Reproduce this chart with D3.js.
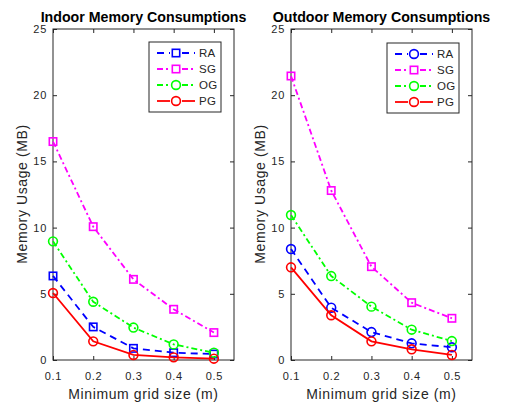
<!DOCTYPE html>
<html>
<head>
<meta charset="utf-8">
<script src="https://cdn.jsdelivr.net/npm/d3@7"></script>
<style>
  body { margin: 0; background: #fff; }
  svg { font-family: "Liberation Sans", Arial, sans-serif; }
</style>
</head>
<body>
<svg id="chart" width="507" height="404"></svg>
<script>
// grid sizes (m)
const gridSizes = [0.1, 0.2, 0.3, 0.4, 0.5];
const xTicks = [0.1, 0.2, 0.3, 0.4, 0.5];
const yTicks = [0, 5, 10, 15, 20, 25];
const seriesNames = ["RA", "SG", "OG", "PG"];

// indoor memory usage (MB)
const indoorRA = [6.35, 2.5, 0.88, 0.55, 0.45];
const indoorSG = [16.5, 10.07, 6.09, 3.83, 2.07];
const indoorOG = [8.96, 4.4, 2.45, 1.18, 0.55];
const indoorPG = [5.06, 1.41, 0.38, 0.2, 0.1];

// outdoor memory usage (MB)
const outdoorRA = [8.38, 3.95, 2.11, 1.26, 0.96];
const outdoorSG = [21.45, 12.8, 7.05, 4.33, 3.15];
const outdoorOG = [10.95, 6.34, 4.03, 2.29, 1.43];
const outdoorPG = [7.0, 3.38, 1.41, 0.81, 0.38];

const styles = {
    RA: {color: "#0000ff", dash: "7,5"},
    SG: {color: "#ff00ff", dash: "6,3,2,3"},
    OG: {color: "#00ff00", dash: "6,3,2,3"},
    PG: {color: "#ff0000", dash: null}
};

const textColor = "#262626";
const lw = 1.8;
const svg = d3.select("#chart");

function drawPanel(opts){
    let xScale = d3.scaleLinear().domain([0.1, 0.55]).range([opts.left, opts.right]);
    let yScale = d3.scaleLinear().domain([0, 25]).range([360, 29]);
    let g = svg.append("g");

    // box
    g.append("rect")
        .attr("x", opts.left).attr("y", 29)
        .attr("width", opts.right - opts.left).attr("height", 331)
        .attr("fill", "none").attr("stroke", textColor).attr("stroke-width", 1);

    // bottom axis + top ticks
    let xAxis = g.append("g").attr("transform", "translate(0,360)")
        .call(d3.axisBottom(xScale).tickValues(xTicks).tickSizeInner(-4).tickSizeOuter(0).tickPadding(12).tickFormat(d3.format(".1f")));
    let xTop = g.append("g").attr("transform", "translate(0,29)")
        .call(d3.axisTop(xScale).tickValues(xTicks).tickSizeInner(-4).tickSizeOuter(0).tickFormat(""));
    let yAxis = g.append("g").attr("transform", "translate(" + opts.left + ",0)")
        .call(d3.axisLeft(yScale).tickValues(yTicks).tickSizeInner(-4).tickSizeOuter(0).tickPadding(6));
    let yRight = g.append("g").attr("transform", "translate(" + opts.right + ",0)")
        .call(d3.axisRight(yScale).tickValues(yTicks).tickSizeInner(-4).tickSizeOuter(0).tickFormat(""));
    [xAxis, xTop, yAxis, yRight].forEach(a => {
        a.select(".domain").remove();
        a.selectAll("line").attr("stroke", textColor);
        a.selectAll("text").attr("fill", textColor).style("font-size", "11px")
            .style("letter-spacing", "0.7px")
            .style("font-family", "Liberation Sans, Arial, sans-serif");
    });

    // lines and markers
    let line = d3.line().x((d, i) => xScale(gridSizes[i])).y(d => yScale(d));
    seriesNames.forEach(name => {
        let st = styles[name];
        let vals = opts.data[name];
        g.append("path").datum(vals)
            .attr("d", line)
            .attr("fill", "none")
            .attr("stroke", st.color)
            .attr("stroke-width", lw)
            .attr("stroke-dasharray", st.dash);
        let shape = opts.shapes[name];
        vals.forEach((v, i) => {
            drawMarker(g, shape, xScale(gridSizes[i]), yScale(v), st.color);
        });
    });

    // title
    svg.append("text")
        .attr("x", (opts.left + opts.right) / 2).attr("y", 21.5)
        .attr("text-anchor", "middle")
        .style("font-size", "14.2px").style("font-weight", "bold")
        .attr("fill", "#000")
        .text(opts.title);

    // axis labels
    svg.append("text")
        .attr("x", (opts.left + opts.right) / 2).attr("y", 399)
        .attr("text-anchor", "middle")
        .style("font-size", "14px").style("letter-spacing", "0.6px").attr("fill", textColor)
        .text("Minimum grid size (m)");
    svg.append("text")
        .attr("transform", "translate(" + (opts.left - 26) + ",194) rotate(-90)")
        .attr("text-anchor", "middle")
        .style("font-size", "14px").style("letter-spacing", "0.6px").attr("fill", textColor)
        .text("Memory Usage (MB)");

    // legend
    let lg = svg.append("g");
    lg.append("rect")
        .attr("x", opts.legX).attr("y", opts.legY)
        .attr("width", 72).attr("height", 70)
        .attr("fill", "#fff").attr("stroke", textColor).attr("stroke-width", 1);
    seriesNames.forEach((name, i) => {
        let st = styles[name];
        let yy = opts.legY + 11 + i * 16;
        let x0 = opts.legX + 8, x1 = opts.legX + 46, xm = (x0 + x1) / 2;
        lg.append("line")
            .attr("x1", x0).attr("x2", xm - 6).attr("y1", yy).attr("y2", yy)
            .attr("stroke", st.color).attr("stroke-width", lw).attr("stroke-dasharray", st.dash);
        lg.append("line")
            .attr("x1", xm + 6).attr("x2", x1).attr("y1", yy).attr("y2", yy)
            .attr("stroke", st.color).attr("stroke-width", lw).attr("stroke-dasharray", st.dash);
        drawMarker(lg, opts.shapes[name], xm, yy, st.color);
        lg.append("text")
            .attr("x", x1 + 4).attr("y", yy + 4)
            .style("font-size", "11.5px").style("letter-spacing", "0.3px").attr("fill", textColor)
            .text(name);
    });
}

function drawMarker(g, shape, x, y, color){
    if(shape === "square"){
        g.append("rect")
            .attr("x", x - 3.7).attr("y", y - 3.7)
            .attr("width", 7.4).attr("height", 7.4)
            .attr("fill", "none").attr("stroke", color).attr("stroke-width", 1.6);
    }
    else{
        g.append("circle")
            .attr("cx", x).attr("cy", y).attr("r", 4.4)
            .attr("fill", "none").attr("stroke", color).attr("stroke-width", 1.6);
    }
}

drawPanel({
    title: "Indoor Memory Consumptions",
    left: 53, right: 234,
    legX: 149, legY: 42,
    data: {RA: indoorRA, SG: indoorSG, OG: indoorOG, PG: indoorPG},
    shapes: {RA: "square", SG: "square", OG: "circle", PG: "circle"}
});
drawPanel({
    title: "Outdoor Memory Consumptions",
    left: 291, right: 472,
    legX: 387, legY: 43,
    data: {RA: outdoorRA, SG: outdoorSG, OG: outdoorOG, PG: outdoorPG},
    shapes: {RA: "circle", SG: "square", OG: "circle", PG: "circle"}
});
</script>
</body>
</html>
